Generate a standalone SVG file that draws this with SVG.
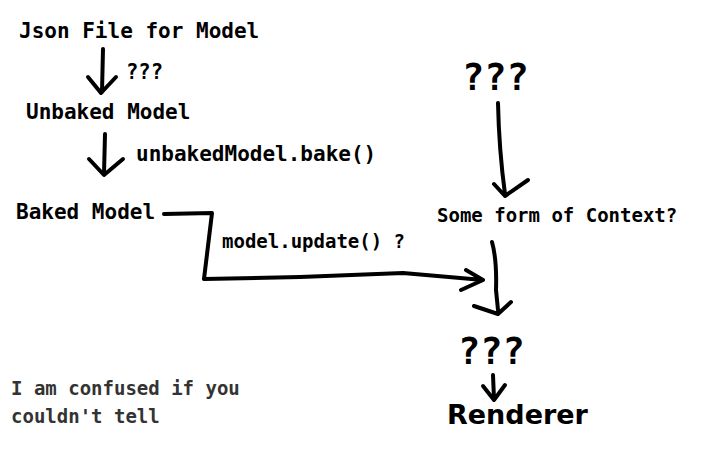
<svg xmlns="http://www.w3.org/2000/svg" width="716" height="452" viewBox="0 0 716 452">
<style>
.t{font-family:"DejaVu Sans Mono","Liberation Mono",monospace;font-weight:bold;fill:#000}
.big{font-family:"DejaVu Sans Mono","Liberation Mono",monospace;font-weight:bold;font-size:37px;fill:#000}
.note{font-family:"DejaVu Sans Mono","Liberation Mono",monospace;font-weight:bold;font-size:19px;fill:#333}
.ln{fill:none;stroke:#000;stroke-width:4;stroke-linecap:round;stroke-linejoin:round}
</style>
<rect width="716" height="452" fill="#fff"/>
<g id="json"><text class="t" x="19" y="38" font-size="21">Json File for Model</text></g>
<g id="label-q1"><text class="t" x="126" y="79" font-size="20.5">???</text></g>
<g id="unbaked"><text class="t" x="26" y="119" font-size="21">Unbaked Model</text></g>
<g id="label-bake"><text class="t" x="136" y="161" font-size="21">unbakedModel.bake()</text></g>
<g id="baked"><text class="t" x="16" y="219" font-size="21">Baked Model</text></g>
<g id="label-update"><text class="t" x="222" y="248" font-size="19">model.update() ?</text></g>
<g id="q-top"><text class="big" x="462" y="90">???</text></g>
<g id="context"><text class="t" x="437" y="222" font-size="19">Some form of Context?</text></g>
<g id="q-mid"><text class="big" x="458" y="364">???</text></g>
<g id="renderer"><text x="447" y="424" font-family="'DejaVu Sans','Liberation Sans',sans-serif" font-weight="bold" font-size="27" fill="#000">Renderer</text></g>
<g id="note"><text class="note" x="11" y="395">I am confused if you</text><text class="note" x="11" y="423">couldn't tell</text></g>
<g id="connectors">
<path class="ln" d="M103,49 L102,92 M88,77 L101,93 L116,77"/>
<path class="ln" d="M105,134 L104,174 M89,159 L104,175 L123,159"/>
<path class="ln" d="M498,103 Q499,150 505,194 M494,184 L505,196 L528,180"/>
<path class="ln" d="M164,214 L212,213 L204,279 L300,277 L403,273 L483,280 M466,270 L483,280 L461,290"/>
<path class="ln" d="M492,242 Q497,260 496,290 L498,310 M474,306 L498,314 L511,302"/>
<path class="ln" d="M493,375 L494,399 M483,386 L494,400 L505,385"/>
</g>
</svg>
